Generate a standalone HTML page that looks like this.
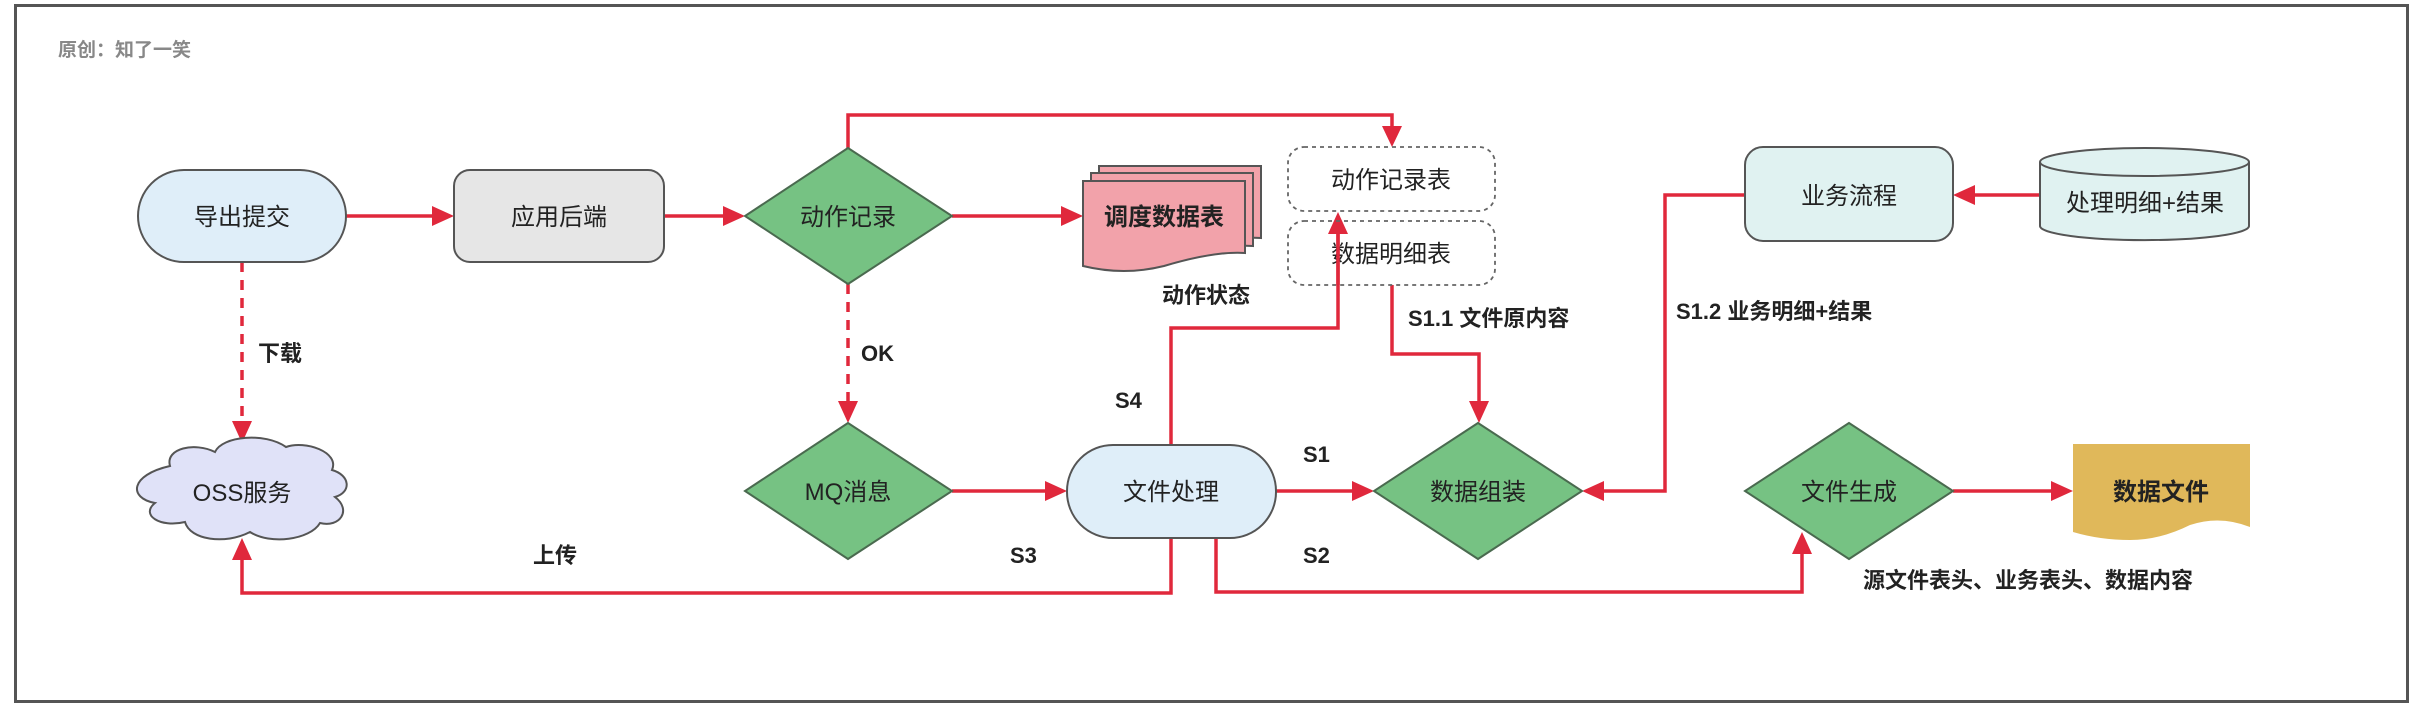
<!DOCTYPE html>
<html><head><meta charset="utf-8"><style>
html,body{margin:0;padding:0;background:#fff;}
svg{display:block;}
text{font-family:"Liberation Sans","Noto Sans CJK SC",sans-serif;}
</style></head><body>
<svg width="2428" height="707" viewBox="0 0 2428 707" xmlns="http://www.w3.org/2000/svg">
<defs>
<marker id="ah" markerWidth="10" markerHeight="10" refX="9" refY="5" orient="auto" markerUnits="userSpaceOnUse" viewBox="0 0 10 10">
</marker>
</defs>
<rect x="15.5" y="5.5" width="2392" height="696" fill="#fff" stroke="#555" stroke-width="3"/>
<text x="58" y="56" font-size="19" font-weight="bold" fill="#888">原创：知了一笑</text>

<g stroke="#e0283c" stroke-width="3.5" fill="none">
<!-- main horizontal -->
<line x1="346" y1="216" x2="436" y2="216"/>
<line x1="664" y1="216" x2="727" y2="216"/>
<line x1="952" y1="216" x2="1064" y2="216"/>
<!-- top -->
<polyline points="848,148 848,115 1392,115 1392,130"/>
<!-- dashed -->
<line x1="242" y1="262" x2="242" y2="424" stroke-dasharray="10,8"/>
<line x1="848" y1="284" x2="848" y2="404" stroke-dasharray="10,8"/>
<!-- MQ->file -->
<line x1="952" y1="491" x2="1050" y2="491"/>
<!-- upload -->
<polyline points="1171,538 1171,593 242,593 242,556"/>
<!-- S4 -->
<polyline points="1171,445 1171,328 1338,328 1338,230"/>
<!-- S1.1 -->
<polyline points="1392,285 1392,354 1479,354 1479,405"/>
<!-- S1 -->
<line x1="1276" y1="491" x2="1356" y2="491"/>
<!-- S1.2 -->
<polyline points="1745,195 1665,195 1665,491 1600,491"/>
<!-- cyl -> biz -->
<line x1="2040" y1="195" x2="1971" y2="195"/>
<!-- S2 -->
<polyline points="1216,538 1216,592 1802,592 1802,550"/>
<!-- gen->file -->
<line x1="1953" y1="491" x2="2055" y2="491"/>
</g>
<g fill="#e0283c">
<polygon points="454,216 432,206 432,226"/>
<polygon points="745,216 723,206 723,226"/>
<polygon points="1083,216 1061,206 1061,226"/>
<polygon points="1392,147 1382,126 1402,126"/>
<polygon points="242,443 232,421 252,421"/>
<polygon points="848,423 838,401 858,401"/>
<polygon points="1067,491 1045,481 1045,501"/>
<polygon points="242,538 232,560 252,560"/>
<polygon points="1338,212 1328,234 1348,234"/>
<polygon points="1479,423 1469,401 1489,401"/>
<polygon points="1374,491 1352,481 1352,501"/>
<polygon points="1582,491 1604,481 1604,501"/>
<polygon points="1953,195 1975,185 1975,205"/>
<polygon points="1802,532 1792,554 1812,554"/>
<polygon points="2073,491 2051,481 2051,501"/>
</g>

<!-- nodes -->
<rect x="138" y="170" width="208" height="92" rx="46" ry="46" fill="#dfeef9" stroke="#555" stroke-width="2"/>
<text x="242" y="225" font-size="24" text-anchor="middle" fill="#222">导出提交</text>
<rect x="454" y="170" width="210" height="92" rx="16" fill="#e6e6e6" stroke="#555" stroke-width="2"/>
<text x="559" y="225" font-size="24" text-anchor="middle" fill="#222">应用后端</text>
<polygon points="848,148 952,216 848,284 745,216" fill="#76c283" stroke="#4a6a4f" stroke-width="2"/>
<text x="848" y="225" font-size="24" text-anchor="middle" fill="#222">动作记录</text>

<!-- multi doc -->
<g fill="#f2a2aa" stroke="#555" stroke-width="2">
<path d="M1099,166 H1261 V238 Q1230,236 1180,252 Q1140,262 1099,252 Z"/>
<path d="M1091,173 H1253 V246 Q1222,244 1172,259 Q1132,269 1091,259 Z"/>
<path d="M1083,181 H1245 V253 Q1214,251 1164,266 Q1124,276 1083,266 Z"/>
</g>
<text x="1164" y="225" font-size="24" font-weight="bold" text-anchor="middle" fill="#222">调度数据表</text>
<text x="1206" y="303" font-size="22" font-weight="bold" text-anchor="middle" fill="#222">动作状态</text>

<rect x="1288" y="147" width="207" height="64" rx="16" fill="none" stroke="#666" stroke-width="1.8" stroke-dasharray="4,4"/>
<text x="1391" y="188" font-size="24" text-anchor="middle" fill="#222">动作记录表</text>
<rect x="1288" y="221" width="207" height="64" rx="16" fill="none" stroke="#666" stroke-width="1.8" stroke-dasharray="4,4"/>
<text x="1391" y="262" font-size="24" text-anchor="middle" fill="#222">数据明细表</text>
<line x1="1338" y1="228" x2="1338" y2="285" stroke="#e0283c" stroke-width="3.5"/>

<rect x="1745" y="147" width="208" height="94" rx="18" fill="#e0f2f1" stroke="#555" stroke-width="2"/>
<text x="1849" y="204" font-size="24" text-anchor="middle" fill="#222">业务流程</text>

<path d="M2040,162 V226 A104,14 0 0 0 2249,226 V162" fill="#e0f2f1" stroke="#555" stroke-width="2"/>
<ellipse cx="2144.5" cy="162" rx="104.5" ry="14" fill="#e0f2f1" stroke="#555" stroke-width="2"/>
<text x="2145" y="211" font-size="24" text-anchor="middle" fill="#222">处理明细+结果</text>

<!-- cloud -->
<path d="M170,466 C165,448 195,442 215,452 C222,436 265,432 286,447 C305,440 340,452 332,470 C350,475 352,492 335,497 C352,510 340,528 320,523 C310,540 270,545 250,532 C225,545 190,540 185,522 C160,528 140,515 155,503 C128,498 130,475 170,466 Z" fill="#e0e2f8" stroke="#555" stroke-width="2"/>
<text x="242" y="501" font-size="24" text-anchor="middle" fill="#222">OSS服务</text>

<polygon points="848,423 952,491 848,559 745,491" fill="#76c283" stroke="#4a6a4f" stroke-width="2"/>
<text x="848" y="500" font-size="24" text-anchor="middle" fill="#222">MQ消息</text>

<rect x="1067" y="445" width="209" height="93" rx="46" ry="46" fill="#dfeef9" stroke="#555" stroke-width="2"/>
<text x="1171" y="500" font-size="24" text-anchor="middle" fill="#222">文件处理</text>

<polygon points="1478,423 1582,491 1478,559 1374,491" fill="#76c283" stroke="#4a6a4f" stroke-width="2"/>
<text x="1478" y="500" font-size="24" text-anchor="middle" fill="#222">数据组装</text>

<polygon points="1849,423 1953,491 1849,559 1745,491" fill="#76c283" stroke="#4a6a4f" stroke-width="2"/>
<text x="1849" y="500" font-size="24" text-anchor="middle" fill="#222">文件生成</text>

<path d="M2073,444 H2250 V527 Q2220,515 2190,525 Q2160,540 2130,540 Q2100,540 2073,532 Z" fill="#e0b85a"/>
<text x="2161" y="500" font-size="24" font-weight="bold" text-anchor="middle" fill="#222">数据文件</text>

<!-- labels -->
<g font-weight="bold" font-size="22" fill="#222">
<text x="258" y="361">下载</text>
<text x="861" y="361">OK</text>
<text x="533" y="563">上传</text>
<text x="1010" y="563">S3</text>
<text x="1115" y="408">S4</text>
<text x="1303" y="462">S1</text>
<text x="1303" y="563">S2</text>
<text x="1408" y="326">S1.1 文件原内容</text>
<text x="1676" y="319">S1.2 业务明细+结果</text>
<text x="1863" y="588">源文件表头、业务表头、数据内容</text>
</g>
</svg>
</body></html>
